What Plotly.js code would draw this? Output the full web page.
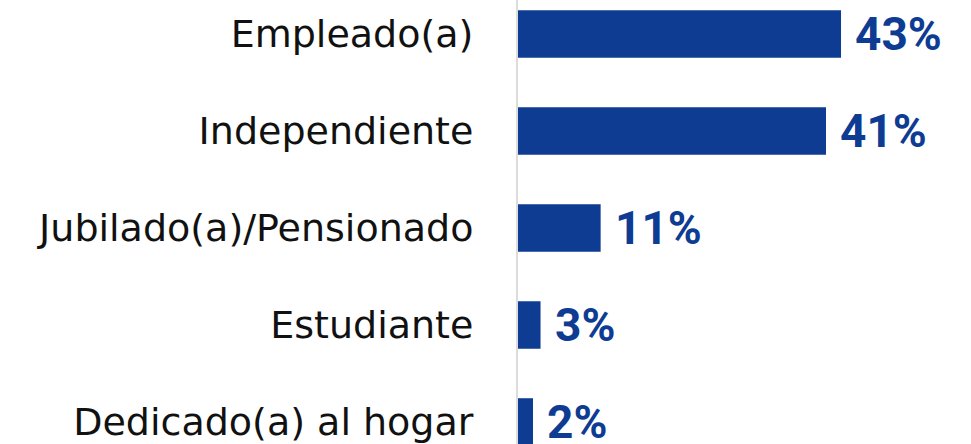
<!DOCTYPE html>
<html>
<head>
<meta charset="utf-8">
<script src="https://cdn.plot.ly/plotly-3.0.1.min.js"></script>
<style>html,body{margin:0;padding:0;background:#fff;}#chart{width:971px;height:444px;}</style>
</head>
<body>
<div id="chart"></div>
<script>
const categories = ["Empleado(a)", "Independiente", "Jubilado(a)/Pensionado", "Estudiante", "Dedicado(a) al hogar"];
const values = [43, 41, 11, 3, 2];
const valueLabels = ["43%", "41%", "11%", "3%", "2%"];

const barColor = "#0E3C93";

const trace = {
  type: "bar",
  orientation: "h",
  x: values,
  y: categories,
  width: 0.49,
  marker: {color: barColor},
  hoverinfo: "skip"
};

const annotations = values.map((v, i) => ({
  x: v, y: categories[i], xref: "x", yref: "y",
  text: "<b>" + valueLabels[i] + "</b>",
  showarrow: false, xanchor: "left", yanchor: "middle",
  xshift: 12,
  font: {family: "Roboto", size: 46, color: barColor}
}));

const layout = {
  width: 971, height: 444,
  margin: {l: 518, r: 0, t: 0, b: 0},
  paper_bgcolor: "#fff", plot_bgcolor: "#fff",
  showlegend: false,
  xaxis: {range: [0, 60.3], visible: false, fixedrange: true},
  yaxis: {
    type: "category",
    range: [4.227, -0.3505],
    showgrid: false, zeroline: false,
    showline: true, linecolor: "#dcdcdc", linewidth: 2,
    ticks: "", ticklabelstandoff: 35,
    tickfont: {family: "DejaVu Sans", size: 38, color: "#111"}
  },
  annotations: annotations
};

Plotly.newPlot("chart", [trace], layout, {staticPlot: true, displayModeBar: false});
</script>
</body>
</html>
